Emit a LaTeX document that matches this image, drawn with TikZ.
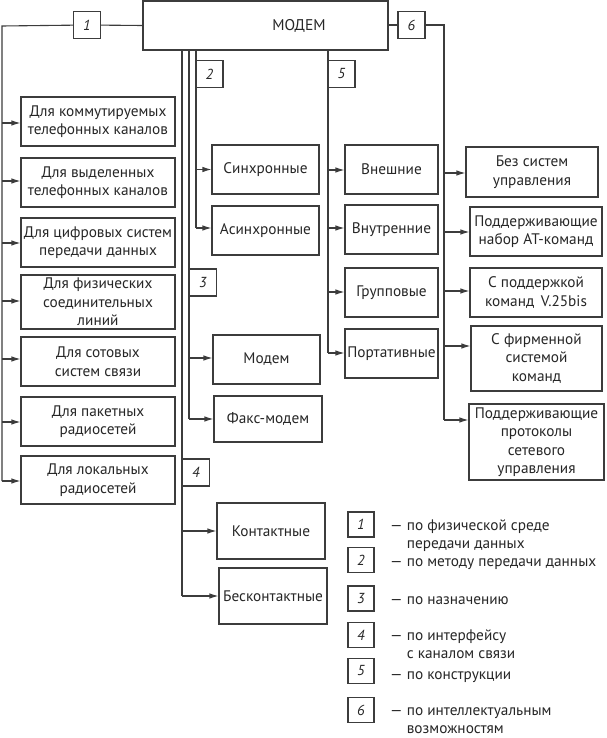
\documentclass[tikz,border=0pt]{standalone}
\usepackage{fontspec}
\setmainfont{PT Sans}
\usetikzlibrary{arrows.meta}
\definecolor{ink}{HTML}{262626}
\definecolor{ln}{HTML}{3C3C3C}
\tikzset{
  x=1pt,y=-1pt,
  box/.style={draw=ln,line width=1.1pt,inner sep=1pt,align=center,text=ink,
    font=\fontsize{15.3}{18.5}\selectfont},
  num/.style={draw=ln,line width=1.1pt,inner sep=0pt,minimum width=27,minimum height=27,
    text=ink,font=\fontsize{14.5}{16}\selectfont\itshape},
  wire/.style={draw=ln,line width=1.1pt},
  arr/.style={wire,-{Latex[length=9pt,width=5.5pt]}},
  legtxt/.style={anchor=north west,align=left,inner sep=0pt,text=ink,
    font=\fontsize{15.3}{18}\selectfont},
}
\begin{document}
\begin{tikzpicture}
\useasboundingbox (0,0) rectangle (606,738);
% main box
\node[box,minimum width=245,minimum height=49] (modem) at (265.5,25.5) {};
\node[text=ink,font=\fontsize{15.5}{16}\selectfont] (modemt) at (299,25.5) {МОДЕМ};
% number boxes
\node[num] (n1) at (87,25) {1};
\node[num] (n2) at (209.5,74) {2};
\node[num] (n3) at (203,282.5) {3};
\node[num] (n4) at (196,472.5) {4};
\node[num] (n5) at (341.5,74) {5};
\node[num] (n6) at (411.5,25) {6};
% left column (1)
\tikzset{lb/.style={box,minimum width=154,minimum height=49}}
\node[lb] (l1) at (98,121.5) {Для коммутируемых\\телефонных каналов};
\node[lb] (l2) at (98,182.5) {Для выделенных\\телефонных каналов};
\node[lb] (l3) at (98,242.5) {Для цифровых систем\\передачи данных};
\node[lb,minimum height=54] (l4) at (98,302) {Для физических\\соединительных\\линий};
\node[lb] (l5) at (98,361.5) {Для сотовых\\систем связи};
\node[lb] (l6) at (98,421.5) {Для пакетных\\радиосетей};
\node[lb,minimum height=48] (l7) at (98,480) {Для локальных\\радиосетей};
% branch 2,3,4
\tikzset{mb/.style={box,minimum width=107,minimum height=49}}
\node[mb] (s1) at (265.5,169.5) {Синхронные};
\node[mb] (s2) at (265.5,230.5) {Асинхронные};
\node[mb] (p1) at (266.5,359.5) {Модем};
\node[mb,minimum width=108,minimum height=46] (p2) at (268,419) {Факс-модем};
\node[mb,minimum width=108,minimum height=56] (i1) at (271,531) {Контактные};
\node[mb,minimum width=108,minimum height=56] (i2) at (273,596) {Бесконтактные};
% branch 5
\tikzset{cb/.style={box,minimum width=93,minimum height=49}}
\node[cb] (c1) at (391.5,169.5) {Внешние};
\node[cb] (c2) at (391.5,229.5) {Внутренние};
\node[cb] (c3) at (391.5,292.5) {Групповые};
\node[cb] (c4) at (391.5,353.5) {Портативные};
% branch 6
\tikzset{fb/.style={box,minimum width=132,minimum height=49}}
\node[fb,minimum height=50] (f1) at (532,172) {Без систем\\управления};
\node[fb] (f2) at (536,231.5) {Поддерживающие\\набор AT-команд};
\node[fb] (f3) at (536,292.5) {С поддержкой\\команд\, V.25bis};
\node[fb,minimum width=131,minimum height=65] (f4) at (536.5,358.5) {С фирменной\\системой\\команд};
\node[fb,minimum width=135,minimum height=76] (f5) at (536.5,442) {Поддерживающие\\протоколы\\сетевого\\управления};
% trunks
\coordinate (t1a) at (2,26);
\coordinate (t1b) at (2,481);
\coordinate (t4a) at (182,50);
\coordinate (t4b) at (182,596);
\coordinate (t3a) at (189,50);
\coordinate (t3b) at (189,419);
\coordinate (t2a) at (196,50);
\coordinate (t2b) at (196,228);
\coordinate (t5a) at (328,50);
\coordinate (t5b) at (328,353);
\coordinate (t6a) at (444,25);
\coordinate (t6b) at (444,420);
\draw[wire] (modem.west) -- (n1) -- (t1a) -- (t1b);
\draw[wire] (t4a) -- (t4b);
\draw[wire] (t3a) -- (t3b);
\draw[wire] (t2a) -- (t2b);
\draw[wire] (t5a) -- (t5b);
\draw[wire] (modem.east |- n6) -- (n6) -- (t6a) -- (t6b);
% arrows branch 1
\foreach \n/\y in {l1/123,l2/181,l3/243,l4/301,l5/359,l6/422,l7/481}
  \draw[arr] (2,\y) -- (\n.west |- 0,\y);
% branch 2
\draw[arr] (t2a |- s1) -- (s1.west);
\draw[arr] (196,228) -- (s2.west |- 0,228);
% branch 3
\draw[arr] (189,358) -- (p1.west |- 0,358);
\draw[arr] (t3b) -- (p2.west |- t3b);
% branch 4
\draw[arr] (t4a |- i1) -- (i1.west);
\draw[arr] (t4b) -- (i2.west |- t4b);
% branch 5
\foreach \n/\y in {c1/170,c2/228,c3/292,c4/353}
  \draw[arr] (328,\y) -- (\n.west |- 0,\y);
% branch 6
\foreach \n/\y in {f1/173,f2/232,f3/291,f4/346,f5/420}
  \draw[arr] (444,\y) -- (\n.west |- 0,\y);
% legend
\tikzset{lg/.style={num,minimum width=26,minimum height=25}}
\node[lg] (g1) at (361,524.5) {1};
\node[lg] (g2) at (361,560) {2};
\node[lg] (g3) at (361,598.5) {3};
\node[lg] (g4) at (361,635) {4};
\node[lg] (g5) at (361,671) {5};
\node[lg] (g6) at (361,710) {6};
\node[legtxt] (d1) at (390,517.5) {\strut— по физической среде\\\phantom{— }передачи данных};
\node[legtxt] (d2) at (390,553.5) {\strut— по методу передачи данных};
\node[legtxt] (d3) at (390,591.5) {\strut— по назначению};
\node[legtxt] (d4) at (390,627.5) {\strut— по интерфейсу\\\phantom{— }с каналом связи};
\node[legtxt] (d5) at (390,666.5) {\strut— по конструкции};
\node[legtxt] (d6) at (390,702.5) {\strut— по интеллектуальным\\\phantom{— }возможностям};
\end{tikzpicture}
\end{document}
